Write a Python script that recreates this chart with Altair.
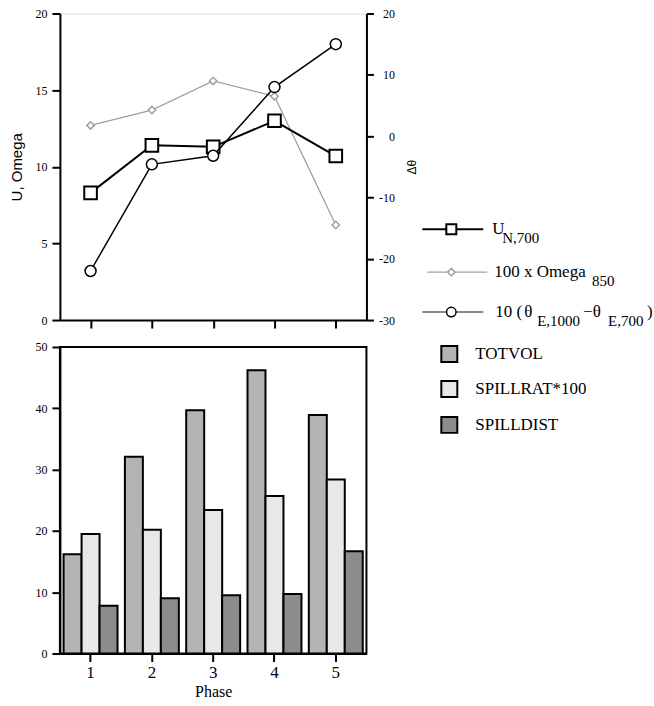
import altair as alt
import pandas as pd

# ---------------- data ----------------
phases = [1, 2, 3, 4, 5]
u_n700 = [8.3, 11.4, 11.3, 13.0, 10.7]
omega850_x100 = [12.7, 13.7, 15.6, 14.6, 6.2]
dtheta_x10 = [-22.0, -4.6, -3.2, 8.0, 15.0]

bar_series = ["TOTVOL", "SPILLRAT*100", "SPILLDIST"]
totvol = [16.2, 32.1, 39.7, 46.2, 38.9]
spillrat_x100 = [19.5, 20.2, 23.4, 25.7, 28.4]
spilldist = [7.8, 9.0, 9.5, 9.7, 16.7]

left_ticks = [0, 5, 10, 15, 20]
right_ticks = [-30, -20, -10, 0, 10, 20]
bar_ticks = [0, 10, 20, 30, 40, 50]

# legend label pieces: (row, text, is_subscript)
legend_pieces = [
    (0, "U", False), (0, "N,700", True),
    (1, "100 x Omega", False), (1, "850", True),
    (2, "10 (", False), (2, "θ", False), (2, "E,1000", True), (2, "−θ", False),
    (2, "E,700", True), (2, ")", False),
    (3, "TOTVOL", False), (4, "SPILLRAT*100", False), (5, "SPILLDIST", False),
]

# ---------------- layout / style ----------------
SERIF = "Liberation Serif"
SANS = "Liberation Sans"
PW, PH = 307, 307
# legend layout, in pixels relative to the top panel's plot area
row_y = [216, 259, 299, 341, 376, 412]
piece_x = [433, 443, 435, 533, 436, 465, 478, 524, 549, 588, 416, 416, 416]
line_x0 = [363, 368, 363]
line_x1 = [424, 428, 424]
line_xm = [392, 392, 392]
swatch_x = 390

line_df = pd.DataFrame({"Phase": phases, "U": u_n700, "Omega": omega850_x100, "Theta": dtheta_x10})

xs = alt.Scale(domain=[0.5, 5.5], nice=False, zero=False)
x_axis = alt.Axis(values=phases, labels=False, title=None, tickSize=8, grid=False,
                  domainWidth=2, tickWidth=2, domainColor="black", tickColor="black")
x_top = alt.X("Phase:Q", scale=xs, axis=x_axis)
x_top_na = alt.X("Phase:Q", scale=xs, axis=None)

left_axis = alt.Axis(values=left_ticks, title="U, Omega", titleFont=SANS, titleFontSize=15,
                     titleFontWeight="normal", titleColor="black", titlePadding=10,
                     labelFont=SERIF, labelFontSize=12, labelColor="black", labelPadding=5,
                     tickSize=8, tickWidth=2, domainWidth=2, grid=False,
                     domainColor="black", tickColor="black")
right_axis = alt.Axis(values=right_ticks, orient="right", title="Δθ", titleFont=SANS, titleFontSize=12,
                      titleFontWeight="normal", titleColor="black", titleAngle=270, titlePadding=24,
                      labelFont=SERIF, labelFontSize=12, labelColor="black", labelAlign="right",
                      labelPadding=21, labelExpr="'' + datum.value",
                      tickSize=7, tickWidth=2, domainWidth=2, grid=False,
                      domainColor="black", tickColor="black")

yl = alt.Scale(domain=[0, 20], nice=False)
yr = alt.Scale(domain=[-30, 20], nice=False)

GRAY = "#a0a0a0"
base = alt.Chart(line_df)
om_line = base.mark_line(color=GRAY, strokeWidth=1.3).encode(x=x_top, y=alt.Y("Omega:Q", scale=yl, axis=left_axis))
om_pts = base.mark_point(shape="diamond", size=55, filled=True, fill="white", stroke=GRAY,
                         strokeWidth=1.5, opacity=1).encode(x=x_top, y=alt.Y("Omega:Q", scale=yl))
u_line = base.mark_line(color="black", strokeWidth=2).encode(x=x_top, y=alt.Y("U:Q", scale=yl))
u_pts = base.mark_point(shape="square", size=160, filled=True, fill="white", stroke="black",
                        strokeWidth=2, opacity=1).encode(x=x_top, y=alt.Y("U:Q", scale=yl))
left_layer = alt.layer(om_line, om_pts, u_line, u_pts)

th_line = base.mark_line(color="black", strokeWidth=1.5).encode(x=x_top_na, y=alt.Y("Theta:Q", scale=yr, axis=right_axis))
th_pts = base.mark_point(shape="circle", size=120, filled=True, fill="white", stroke="black",
                         strokeWidth=1.5, opacity=1).encode(x=x_top_na, y=alt.Y("Theta:Q", scale=yr))
right_layer = alt.layer(th_line, th_pts)

# ---------------- legend (drawn beside the top panel) ----------------
bar_colors = ["#b4b4b4", "#e8e8e8", "#8c8c8c"]
lx = alt.Scale(domain=[0, PW], nice=False, zero=False)
ly = alt.Scale(domain=[0, PH], nice=False, zero=False, reverse=True)

line_leg = pd.DataFrame({"row": [0, 1, 2], "y": row_y[:3], "x0": line_x0, "x1": line_x1, "xm": line_xm})


def leg_rule(i, color, w):
    return alt.Chart(line_leg.iloc[[i]]).mark_rule(color=color, strokeWidth=w).encode(
        x=alt.X("x0:Q", scale=lx, axis=None), x2="x1:Q", y=alt.Y("y:Q", scale=ly, axis=None))


def leg_pt(i, shape, size, stroke, w):
    return alt.Chart(line_leg.iloc[[i]]).mark_point(shape=shape, size=size, filled=True, fill="white",
                                                    stroke=stroke, strokeWidth=w, opacity=1).encode(
        x=alt.X("xm:Q", scale=lx, axis=None), y=alt.Y("y:Q", scale=ly, axis=None))


sw_df = pd.DataFrame({"series": bar_series, "y": row_y[3:], "x": [swatch_x] * 3})
swatch = alt.Chart(sw_df).mark_square(size=256, stroke="black", strokeWidth=2, opacity=1).encode(
    x=alt.X("x:Q", scale=lx, axis=None), y=alt.Y("y:Q", scale=ly, axis=None),
    color=alt.Color("series:N", scale=alt.Scale(domain=bar_series, range=bar_colors), legend=None))

txt_df = pd.DataFrame({"y": [row_y[p[0]] for p in legend_pieces], "text": [p[1] for p in legend_pieces],
                       "sub": [p[2] for p in legend_pieces], "px": piece_x})
main_txt = alt.Chart(txt_df[~txt_df["sub"]]).mark_text(align="left", baseline="middle", font=SERIF,
                                                       fontSize=17, color="black").encode(
    x=alt.X("px:Q", scale=lx, axis=None), y=alt.Y("y:Q", scale=ly, axis=None), text="text:N")
sub_txt = alt.Chart(txt_df[txt_df["sub"]]).mark_text(align="left", baseline="middle", font=SERIF,
                                                     fontSize=15, color="black", dy=9).encode(
    x=alt.X("px:Q", scale=lx, axis=None), y=alt.Y("y:Q", scale=ly, axis=None), text="text:N")

legend_layer = alt.layer(
    leg_rule(0, "black", 2), leg_rule(1, GRAY, 1.3), leg_rule(2, "#606060", 1.5),
    leg_pt(0, "square", 100, "black", 2), leg_pt(1, "diamond", 55, GRAY, 1.5), leg_pt(2, "circle", 90, "black", 1.5),
    swatch, main_txt, sub_txt)

top = alt.layer(left_layer, right_layer, legend_layer).resolve_scale(
    x="independent", y="independent", color="independent").properties(width=PW, height=PH)

# ---------------- bars ----------------
bar_rows = []
for i, p in enumerate(phases):
    for s, vals in zip(bar_series, [totvol, spillrat_x100, spilldist]):
        bar_rows.append({"Phase": p, "series": s, "value": vals[i]})
bar_df = pd.DataFrame(bar_rows)

bottom = alt.Chart(bar_df).mark_bar(stroke="black", strokeWidth=2).encode(
    x=alt.X("Phase:O", scale=alt.Scale(paddingInner=0.12, paddingOuter=0.06),
            axis=alt.Axis(labelAngle=0, title="Phase", titleFont=SERIF, titleFontSize=16,
                          titleFontWeight="normal", titleColor="black", titlePadding=3,
                          labelFont=SERIF, labelFontSize=17, labelColor="black", labelPadding=3,
                          tickSize=8, tickWidth=2, domainWidth=2, domainColor="black", tickColor="black")),
    xOffset=alt.XOffset("series:N", sort=bar_series, scale=alt.Scale(paddingInner=0, paddingOuter=0)),
    y=alt.Y("value:Q", scale=alt.Scale(domain=[0, 50], nice=False),
            axis=alt.Axis(values=bar_ticks, title=None, labelFont=SERIF, labelFontSize=12,
                          labelColor="black", labelPadding=5, tickSize=8, tickWidth=2, domainWidth=2,
                          grid=False, domainColor="black", tickColor="black")),
    color=alt.Color("series:N", sort=bar_series,
                    scale=alt.Scale(domain=bar_series, range=bar_colors), legend=None),
).properties(width=PW, height=PH, view=alt.ViewBackground(stroke="black", strokeWidth=2))

chart = alt.vconcat(top, bottom, spacing=27, bounds="flush").resolve_scale(color="independent").configure_view(
    stroke=None).configure(padding={"left": 9, "top": 6, "right": 0, "bottom": 0})

chart.save("out.html", embed_options={"renderer": "svg", "actions": False})
